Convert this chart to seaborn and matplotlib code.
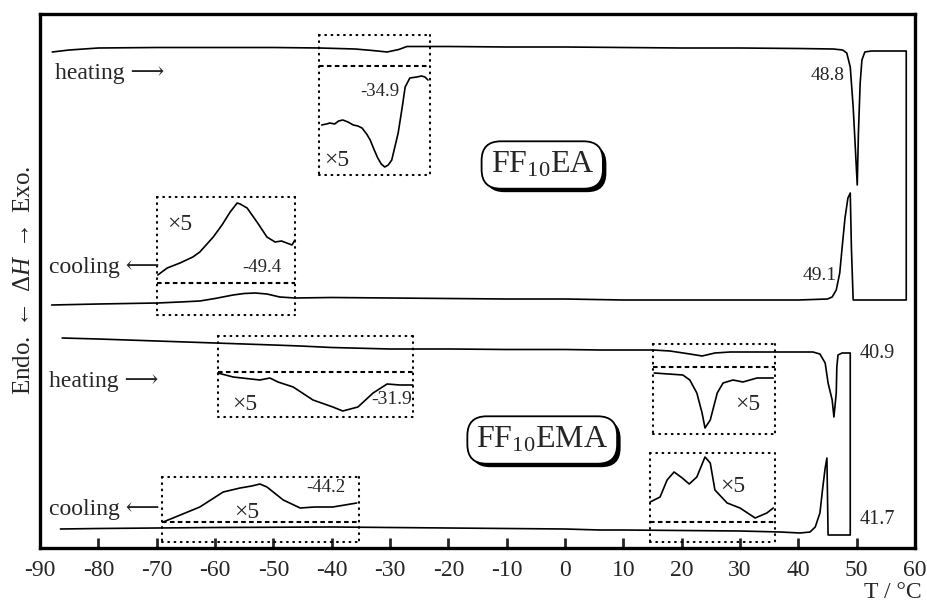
import numpy as np
import pandas as pd
import matplotlib
matplotlib.use("Agg")
import matplotlib.pyplot as plt
import matplotlib.patheffects as pe
import seaborn as sns

# ---------------- data (T in °C, signal in arbitrary units) ----------------
ticks = list(range(-90, 61, 10))
tick_labels = [str(t) for t in ticks]

# FF10EA heating trace
ea_heat_T = [-87.9, -85.0, -80.0, -70.0, -60.0, -50.0, -42.0, -36.0, -33.0, -30.5, -28.5,
             -27.1, -20.0, -10.0, 0.0, 10.0, 20.0, 30.0, 40.0, 46.0, 47.6, 48.3, 48.9,
             49.4, 49.7, 50.1, 50.3, 50.6, 50.9, 51.4, 52.5, 55.0, 58.5]
ea_heat_S = [496, 498, 500, 500.5, 500.5, 500.5, 500, 499, 497.5, 496, 498.5,
             501.5, 501.5, 501, 501, 500.5, 500, 500, 499.5, 499, 498, 495, 481,
             441, 408, 363, 415, 465, 488, 496, 497, 497, 497]
# FF10EA cooling trace (right -> left)
ea_cool_T = [58.5, 49.4, 49.1, 48.9, 48.5, 48.0, 47.5, 47.1, 46.5, 45.8, 45.0, 40.0, 30.0,
             20.0, 10.0, 0.0, -10.0, -20.0, -30.0, -40.0, -46.3, -48.9, -51.1, -53.1,
             -55.0, -56.9, -60.0, -62.6, -66.0, -69.9, -75.0, -80.0, -88.0]
ea_cool_S = [248, 248, 300, 355, 350, 330, 300, 275, 258, 251, 249, 248, 248,
             248, 248, 249, 249, 249.5, 250, 250.5, 250, 251, 254, 255,
             254.5, 253, 249.5, 247, 246, 245, 244.5, 244, 243]

# FF10EMA heating trace
ema_heat_T = [-86.2, -80.0, -70.0, -60.0, -50.0, -45.4, -40.0, -30.0, -19.7, -10.0, 0.0,
              6.0, 15.1, 18.0, 21.4, 23.5, 25.7, 28.3, 36.9, 42.5, 43.7, 44.6, 45.1,
              45.8, 46.1, 46.5, 46.6, 46.8, 47.5, 48.9]
ema_heat_S = [210, 209, 207, 205, 203, 202, 200.5, 199, 199, 198.5, 198.5,
              198, 198, 197, 194, 192, 195, 196, 196, 196, 194, 185, 165,
              148, 131, 155, 181, 193, 195, 195]
# FF10EMA cooling trace (right -> left)
ema_cool_T = [48.9, 45.1, 44.9, 44.6, 44.2, 43.7, 42.9, 42.0, 40.3, 36.9, 30.0, 20.0,
              10.0, 6.0, 0.0, -20.0, -40.0, -60.0, -80.0, -86.5]
ema_cool_S = [13, 13, 90, 80, 61, 35, 21, 16, 15, 16, 17, 17.5,
              18, 18, 19, 20, 21, 20.5, 19.5, 19]

# x5 magnified curves
ea_heat_x5_T = [-41.7, -40.9, -40.3, -39.5, -38.8, -38.1, -37.2, -36.3, -35.5, -34.8, -34.0,
                -33.4, -32.7, -32.1, -31.5, -30.9, -30.3, -29.7, -28.6, -27.9, -27.4,
                -26.6, -25.4, -24.6, -24.0, -23.5]
ea_heat_x5_S = [423, 424, 425, 424, 427, 428, 426, 423, 422, 420, 414,
                408, 398, 390, 384, 381, 383, 388, 415, 441, 461,
                470, 471, 472, 471, 468]
ea_cool_x5_T = [-69.8, -68.2, -66.0, -63.8, -62.6, -60.3, -58.8, -57.4, -56.2, -55.7,
                -54.5, -52.8, -51.1, -49.7, -48.6, -47.7, -46.8, -46.3]
ea_cool_x5_S = [273, 280, 285, 291, 296, 311, 323, 336, 345, 344,
                340, 326, 311, 306, 307, 305, 303, 308]
ema_lh_x5_T = [-59.5, -56.9, -52.3, -50.6, -49.2, -46.6, -43.2, -39.8, -38.1, -35.5,
               -32.9, -30.5, -28.3, -26.1]
ema_lh_x5_S = [175, 171, 168, 170, 166, 161, 148, 141, 137, 141,
               155, 164, 163, 163]
ema_lc_x5_T = [-68.9, -67.2, -62.6, -58.6, -55.7, -53.7, -52.3, -51.1, -48.3, -45.4,
               -42.9, -39.8, -35.7]
ema_lc_x5_S = [26, 30, 41, 56, 60, 62, 64, 61, 48, 40,
               41, 41, 45]
ema_rh_x5_T = [15.3, 20.2, 21.4, 22.6, 23.5, 24.0, 24.9, 26.1, 27.1, 28.8, 30.5, 32.9, 35.7]
ema_rh_x5_S = [175, 173, 168, 155, 135, 120, 128, 155, 165, 168, 166, 170, 170]
ema_rc_x5_T = [14.6, 16.3, 17.5, 18.7, 20.1, 21.3, 22.6, 24.0, 24.9, 25.7, 27.8, 30.0,
               32.6, 34.6, 35.7]
ema_rc_x5_S = [46, 51, 68, 76, 70, 64, 71, 91, 85, 58, 45, 40,
               30, 35, 40]

# zoom windows: temperature range and (top, divider, bottom) signal levels
zoom_T = [(-42.2, -23.1), (-69.9, -46.3), (-59.5, -26.1), (-69.1, -35.3), (15.1, 36.0), (14.6, 36.0)]
zoom_S = [(513, 482, 373), (351, 265, 233), (212, 176, 131), (71, 26, 6), (204, 181, 114), (95, 26, 6)]

# ---------------- style ----------------
sns.set_theme(style="white")
plt.rcParams["font.family"] = ["Liberation Serif", "DejaVu Serif", "DejaVu Sans"]
plt.rcParams["mathtext.fontset"] = "custom"
plt.rcParams["mathtext.rm"] = "Liberation Serif"
plt.rcParams["mathtext.it"] = "Liberation Serif:italic"
plt.rcParams["mathtext.fallback"] = "stix"
plt.rcParams["axes.unicode_minus"] = False

fig = plt.figure(figsize=(9.28, 6.09), dpi=100)
ax = fig.add_axes([40 / 928, 61 / 609, 875 / 928, 534 / 609])

lw = 1.2
def curve(T, S):
    sns.lineplot(x=T, y=S, sort=False, estimator=None, color="black", lw=lw, ax=ax)

curve(ea_heat_T + ea_cool_T, ea_heat_S + ea_cool_S)
curve(ema_heat_T + ema_cool_T, ema_heat_S + ema_cool_S)
for T, S in [(ea_heat_x5_T, ea_heat_x5_S), (ea_cool_x5_T, ea_cool_x5_S),
             (ema_lh_x5_T, ema_lh_x5_S), (ema_lc_x5_T, ema_lc_x5_S),
             (ema_rh_x5_T, ema_rh_x5_S), (ema_rc_x5_T, ema_rc_x5_S)]:
    curve(T, S)

dot = dict(color="black", lw=1.5, linestyle=(0, (0.4, 2.6)), dash_capstyle="round",
           solid_capstyle="round")
dash = dict(color="black", lw=1.5, linestyle=(0, (2.2, 1.6)))
for (t0, t1), (a, b, c) in zip(zoom_T, zoom_S):
    ax.plot([t0, t1], [a, a], **dot)
    ax.plot([t0, t1], [c, c], **dot)
    ax.plot([t0, t0], [a, c], **dot)
    ax.plot([t1, t1], [a, c], **dot)
    ax.plot([t0, t1], [b, b], **dash)

# ---------------- texts ----------------
fs = 17
ax.text(-87.4, 475, "heating ⟶", fontsize=fs, ha="left", va="center")
ax.text(-88.5, 281, "cooling ⟵", fontsize=fs, ha="left", va="center")
ax.text(-88.5, 167, "heating ⟶", fontsize=fs, ha="left", va="center")
ax.text(-88.5, 38, "cooling ⟵", fontsize=fs, ha="left", va="center")

ax.text(48.0, 473, "48.8", fontsize=14, ha="right", va="center")
ax.text(46.6, 273, "49.1", fontsize=14, ha="right", va="center")
ax.text(53.5, 195, "40.9", fontsize=14.5, ha="center", va="center")
ax.text(53.5, 28, "41.7", fontsize=14.5, ha="center", va="center")

ax.text(-31.7, 456, "-34.9", fontsize=13.5, ha="center", va="center")
ax.text(-51.9, 281, "-49.4", fontsize=13.5, ha="center", va="center")
ax.text(-26.2, 148, "-31.9", fontsize=14, ha="right", va="center")
ax.text(-41.0, 60, "-44.2", fontsize=13.5, ha="center", va="center")

for (tx, sy) in [(-39.1, 388), (-66.0, 323), (-54.9, 143), (-54.5, 35), (31.4, 143), (28.8, 61)]:
    ax.text(tx, sy, "×5", fontsize=17, ha="center", va="center")

for (tx, sy, lab) in [(-3.9, 383, "FF$_{\\mathregular{10}}$EA"), (-3.9, 108, "FF$_{\\mathregular{10}}$EMA")]:
    t = ax.text(tx, sy, lab, fontsize=23, ha="center", va="center",
                bbox=dict(boxstyle="round,pad=0.28,rounding_size=0.6", fc="white", ec="black", lw=1.3))
    t.get_bbox_patch().set_path_effects(
        [pe.SimplePatchShadow(offset=(2.5, -2.5), shadow_rgbFace="black", alpha=1.0), pe.Normal()])

# ---------------- axes ----------------
ax.set_xlim(-90, 60)
ax.set_ylim(0, 534)
ax.set_yticks([])
ax.set_xticks(ticks)
ax.set_xticklabels(tick_labels, fontsize=17)
ax.tick_params(axis="x", direction="in", length=7, width=2.0, pad=9, bottom=True, top=False)
for s in ax.spines.values():
    s.set_linewidth(2.4)
    s.set_color("black")

ax.set_ylabel("Endo. $\\leftarrow$ Δ$H$ $\\rightarrow$ Exo.", fontsize=18)
ax.yaxis.set_label_coords(-0.006, 0.502)
ax.set_xlabel("T / °C", fontsize=17, ha="right", va="center")
ax.xaxis.set_label_coords(1.008, -0.084)

fig.savefig("out.png", dpi=100)
